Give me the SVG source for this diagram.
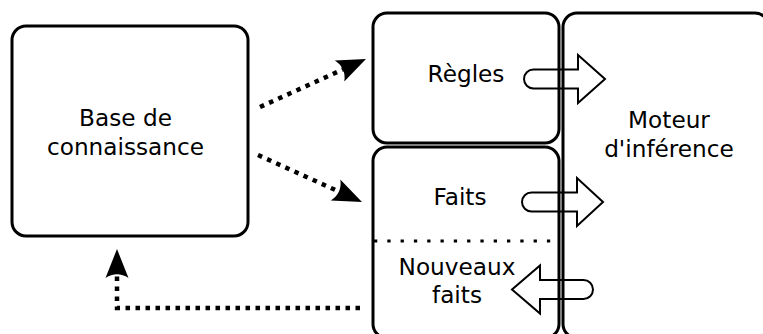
<svg xmlns="http://www.w3.org/2000/svg" width="763" height="334" viewBox="0 0 763 334">
  <style>
    .box { fill: #ffffff; stroke: #000000; stroke-width: 3; }
    .flow { fill: none; stroke: #000000; stroke-width: 2; stroke-linejoin: miter; }
    .sep { fill: none; stroke: #000000; stroke-width: 3; stroke-dasharray: 3.3 10; }
    .link { fill: none; stroke: #000000; stroke-width: 4.5; stroke-dasharray: 4.5 5.5; marker-end: url(#head); }
    text { font-family: "DejaVu Sans", "Liberation Sans", sans-serif; font-size: 23.2px; fill: #000000; text-anchor: middle; }
  </style>
  <defs>
    <!-- concave-backed arrowhead, tip 25 units ahead of the line end -->
    <marker id="head" markerUnits="userSpaceOnUse" orient="auto" refX="4" refY="0" markerWidth="40" markerHeight="40" overflow="visible">
      <path d="M29,0 L0,-11.5 C5,-4 5,4 0,11.5 Z" fill="#000000"/>
    </marker>
  </defs>

  <rect width="763" height="334" fill="#ffffff"/>

  <g id="base">
    <rect class="box" x="12" y="26" width="236" height="210" rx="14"/>
    <text x="125.5" y="126">Base de</text>
    <text x="125.5" y="155">connaissance</text>
  </g>

  <g id="moteur">
    <rect class="box" x="563" y="13" width="206" height="325" rx="14"/>
    <text x="669" y="128">Moteur</text>
    <text x="669" y="157">d'inférence</text>
  </g>

  <g id="regles">
    <rect class="box" x="373" y="13" width="186" height="130" rx="14"/>
    <text x="466" y="82">Règles</text>
  </g>

  <g id="faits">
    <rect class="box" x="373" y="147" width="186" height="191" rx="14"/>
    <line class="sep" x1="374" y1="241" x2="556" y2="241"/>
    <text x="460" y="205">Faits</text>
  </g>

  <g id="nouveaux-faits">
    <text x="457" y="275">Nouveaux</text>
    <text x="457" y="303">faits</text>
  </g>

  <g id="flows">
    <path class="flow" d="M533.5,69.5 H578 V55 L605,79 L578,103 V88.5 H533.5 A9.5,9.5 0 0 1 533.5,69.5 Z"/>
    <path class="flow" d="M531.5,192.5 H577 V178 L603,202 L577,226 V211.5 H531.5 A9.5,9.5 0 0 1 531.5,192.5 Z"/>
    <path class="flow" d="M583.5,280 H540 V265.5 L512,289.5 L540,313.5 V299 H583.5 A9.5,9.5 0 0 0 583.5,280 Z"/>
  </g>

  <g id="connectors">
    <path class="link" d="M260,107 L343.2,69.3"/>
    <path class="link" d="M258,155 L339.2,191.7"/>
    <path class="link" d="M360,308 H117 V274"/>
  </g>
</svg>
